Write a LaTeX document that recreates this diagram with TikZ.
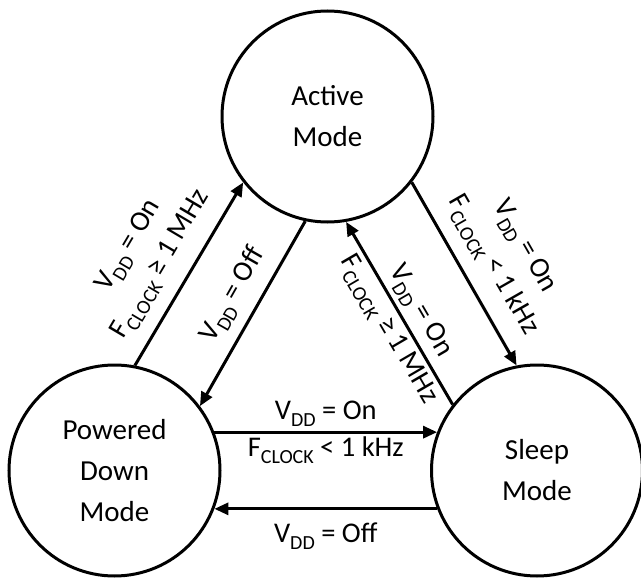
\documentclass[tikz,border=0pt]{standalone}
\usepackage{fontspec}
\setmainfont{Carlito}
\usepackage{tikz}
\usetikzlibrary{arrows.meta}

\newcommand{\sub}[1]{\raisebox{-7pt}{\fontsize{20}{20}\selectfont #1}}

\begin{document}
\begin{tikzpicture}[x=1pt,y=-1pt,
  mode/.style={draw,circle,line width=3pt,minimum size=211pt,inner sep=0pt,align=center,font=\fontsize{29}{41}\selectfont},
  conn/.style={line width=3pt,-{Triangle[length=14pt,width=12pt]}},
  lbl/.style={sloped,inner sep=0pt,align=center,font=\fontsize{28.5}{37}\selectfont}]
\useasboundingbox (0,0) rectangle (641,578);
\node[mode] (act) at (327.5,116.5) {Active\\Mode};
\node[mode] (pd) at (114.5,470.5) {Powered\\Down\\Mode};
\node[mode] (sl) at (537,470.5) {Sleep\\Mode};
% left pair
\draw[conn] (pd.79) -- node[lbl,above=14pt,pos=0.47] {V\sub{DD} = On\\F\sub{CLOCK} ≥ 1 MHz} (act.218);
\draw[conn] (act.258) -- node[lbl,above=11pt,pos=0.47] {V\sub{DD} = Off} (pd.37);
% right pair
\draw[conn] (act.322) -- node[lbl,above=14pt,pos=0.53] {V\sub{DD} = On\\F\sub{CLOCK} < 1 kHz} (sl.101);
\draw[conn] (sl.142) -- node[lbl,pos=0.46] {V\sub{DD} = On\\F\sub{CLOCK} ≥ 1 MHz} (act.280);
% bottom pair
\draw[conn] (pd.21) -- node[lbl,pos=0.5] {V\sub{DD} = On\\F\sub{CLOCK} < 1 kHz} (sl.159);
\draw[conn] (sl.201) -- node[lbl,below=12pt] {V\sub{DD} = Off} (pd.339);
\end{tikzpicture}
\end{document}
